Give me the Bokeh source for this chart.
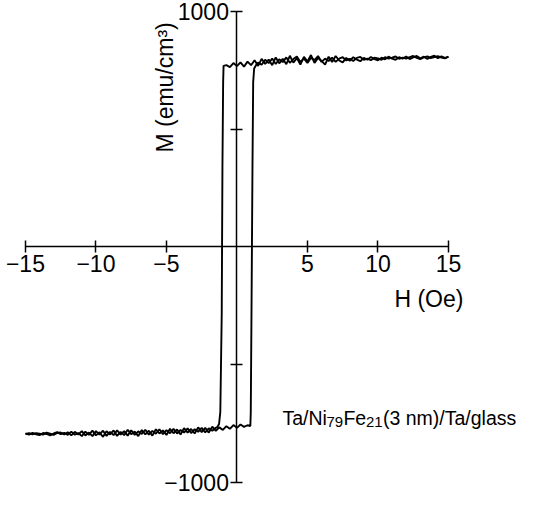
import numpy as np
from bokeh.plotting import figure
from bokeh.models import Range1d, LinearAxis, FixedTicker, Label, CustomJSTickFormatter
from bokeh.embed import file_html
from bokeh.resources import INLINE

# ---------------- data ----------------
x_ticks = [-15, -10, -5, 5, 10, 15]
y_ticks = [-1000, -500, 500, 1000]
H_STEP = 0.25

# descending branch, upper plateau (H = -0.75 ... 15)
top_dn_start = -0.75
M_top_dn = [772, 764, 781, 768, 784, 766, 787,
            772, 793, 769, 799, 777, 796, 772, 805, 780, 799, 776, 812,
            783, 802, 775, 807, 788, 815, 782, 803, 790, 774, 808, 786,
            811, 792, 784, 803, 791, 806, 796, 789, 803, 795, 807, 798,
            793, 804, 797, 808, 800, 795, 806, 800, 809, 798, 805, 811,
            801, 808, 799, 807, 812, 802, 809, 803, 807]
# descending branch, reversal near -Hc
sw_dn_H = [-0.95, -0.98, -1.03, -1.08, -1.18, -1.27, -1.40]
sw_dn_M = [769, 700, 335, -285, -700, -752, -765]
# descending branch, lower plateau (H = -15 ... -1.5)
bot_dn_start = -15.0
M_bot_dn = [-795, -790, -796, -791, -793, -797, -788, -793, -798, -790,
            -788, -796, -787, -800, -785, -796, -782, -800, -788, -803,
            -782, -797, -780, -802, -785, -799, -779, -797, -782, -801,
            -778, -798, -783, -794, -776, -797, -781, -793, -774, -795,
            -778, -791, -772, -792, -777, -788, -770, -790, -774, -785,
            -768, -787, -770, -780, -768]

# ascending branch, lower plateau (H = -15 ... 0.75)
bot_up_start = -15.0
M_bot_up = [-791, -797, -789, -795, -799, -790, -794, -800, -792, -786,
            -795, -789, -798, -784, -797, -790, -803, -784, -798, -780,
            -800, -787, -806, -782, -796, -779, -802, -785, -799, -776,
            -795, -784, -803, -777, -796, -780, -801, -774, -792, -779,
            -798, -772, -791, -775, -796, -769, -788, -773, -792, -766,
            -786, -768, -788, -763, -781, -766, -777, -761, -772, -756,
            -768, -754, -764, -757]
# ascending branch, reversal near +Hc
sw_up_H = [0.95, 0.98, 1.03, 1.10, 1.15, 1.22, 1.35]
sw_up_M = [-760, -700, -285, 335, 700, 758, 772]
# ascending branch, upper plateau (H = 1.5 ... 15)
top_up_start = 1.5
M_top_up = [783, 774, 795, 781, 800, 777, 797, 785, 805, 782,
            798, 809, 786, 800, 782, 803, 794, 811, 786, 800,
            790, 804, 786, 800, 806, 792, 799, 790, 803, 807,
            795, 800, 793, 804, 801, 795, 806, 800, 804, 809,
            799, 804, 800, 806, 811, 803, 798, 805, 809, 802,
            806, 810, 804, 801, 808]


def grid(start, vals):
    return list(start + H_STEP * np.arange(len(vals)))


H_dn = grid(top_dn_start, M_top_dn)[::-1] + sw_dn_H + grid(bot_dn_start, M_bot_dn)[::-1]
M_dn = M_top_dn[::-1] + sw_dn_M + M_bot_dn[::-1]
H_up = grid(bot_up_start, M_bot_up) + sw_up_H + grid(top_up_start, M_top_up)
M_up = M_bot_up + sw_up_M + M_top_up

# ---------------- figure ----------------
p = figure(width=521, height=498,
           x_range=Range1d(-16.77, 20.18), y_range=Range1d(-1068.0, 1046.7),
           output_backend="svg", toolbar_location=None,
           x_axis_location=None, y_axis_location=None, min_border=0)
p.outline_line_color = None
p.background_fill_color = "white"
p.grid.visible = False

FONT = "Liberation Sans"

xaxis = LinearAxis(fixed_location=0, bounds=(-15, 15),
                   ticker=FixedTicker(ticks=x_ticks, minor_ticks=[]),
                   formatter=CustomJSTickFormatter(
                       code="return tick < 0 ? '\u2212' + Math.abs(tick) : String(tick);"))
yaxis = LinearAxis(fixed_location=0, bounds=(-1000, 1000),
                   ticker=FixedTicker(ticks=y_ticks, minor_ticks=[]),
                   formatter=CustomJSTickFormatter(
                       code="if (Math.abs(tick) != 1000) return ''; return tick < 0 ? '\u2212' + Math.abs(tick) : String(tick);"))
for ax in (xaxis, yaxis):
    ax.axis_line_color = "black"
    ax.axis_line_width = 1.5
    ax.major_tick_line_color = "black"
    ax.major_tick_line_width = 1.5
    ax.major_tick_in = 6
    ax.major_tick_out = 6
    ax.minor_tick_line_color = None
    ax.major_label_text_font = FONT
    ax.major_label_text_font_size = "23px"
    ax.major_label_text_color = "black"
    ax.major_label_standoff = 2
p.add_layout(xaxis, "below")
p.add_layout(yaxis, "left")

p.line(H_dn, M_dn, line_color="black", line_width=1.9)
p.line(H_up, M_up, line_color="black", line_width=1.9)

p.add_layout(Label(x=11.17, y=-221, text="H (Oe)", text_font=FONT,
                   text_font_size="23px", text_color="black",
                   text_baseline="alphabetic", text_align="left"))
p.add_layout(Label(x=-5.07, y=401, text="M (emu/cm\u00b3)", text_font=FONT,
                   text_font_size="23px", text_color="black", angle=np.pi / 2,
                   text_baseline="alphabetic", text_align="left"))

# sample label with subscripts
pieces = [("Ta/Ni", 0.0, False), ("79", 44.0, True), ("Fe", 61.0, False),
          ("21", 83.5, True), ("(3 nm)/Ta/glass", 100.5, False)]
for txt, dx, sub in pieces:
    p.add_layout(Label(x=3.227, y=-728, x_offset=dx, y_offset=-4 if sub else 0,
                       text=txt, text_font=FONT,
                       text_font_size="15px" if sub else "19.5px",
                       text_color="black", text_baseline="alphabetic",
                       text_align="left"))

open("out.html", "w").write(file_html(p, INLINE))
